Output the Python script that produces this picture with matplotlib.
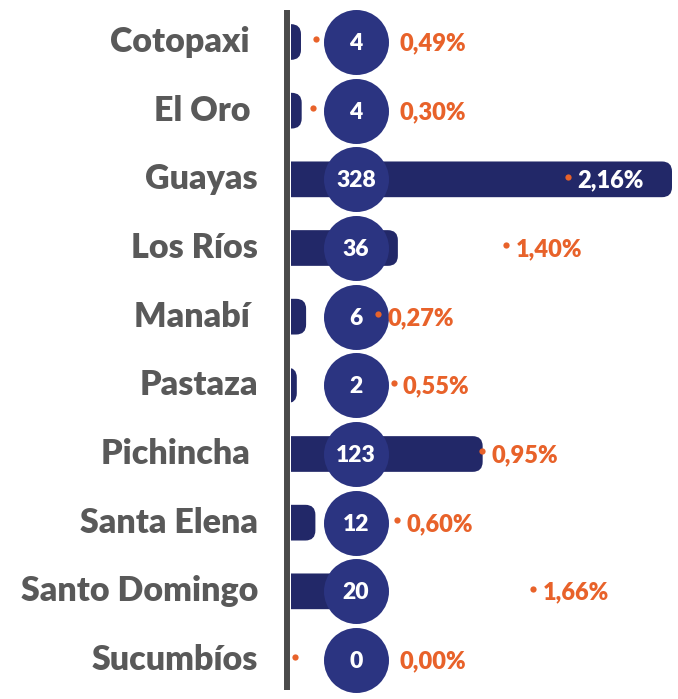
import matplotlib
matplotlib.use("Agg")
import matplotlib.pyplot as plt
from matplotlib.patches import FancyBboxPatch
from matplotlib.lines import Line2D

# ---- data ----
provinces = ["Cotopaxi ", "El Oro ", "Guayas", "Los Ríos", "Manabí ", "Pastaza",
             "Pichincha ", "Santa Elena", "Santo Domingo", "Sucumbíos"]
counts = [4, 4, 328, 36, 6, 2, 123, 12, 20, 0]
bar_lengths = [8.6, 9.2, 328, 92, 13, 5, 165, 21, 45, 0]
pct_labels = ["0,49%", "0,30%", "2,16%", "1,40%", "0,27%", "0,55%",
              "0,95%", "0,60%", "1,66%", "0,00%"]
dot_values = [0.195, 0.17, 2.16, 1.68, 0.68, 0.80, 1.49, 0.83, 1.89, 0.03]

BAR = "#222868"
CIRC = "#2B3481"
ORANGE = "#E8622A"
GRAY = "#595959"
FONT = "Lato"
WEIGHT = "heavy"

W, H = 678, 699
fig = plt.figure(figsize=(W / 100, H / 100), dpi=100)
ax_left, ax_right = 291, 678
row0, row9 = 42, 660
step = (row9 - row0) / 9
top_px = row0 - step / 2
bot_px = row9 + step / 2
ax = fig.add_axes([ax_left / W, (H - bot_px) / H, (ax_right - ax_left) / W, (bot_px - top_px) / H])
px_per_unit = 381 / 328
xmax = (ax_right - ax_left) / px_per_unit
ax.set_xlim(0, xmax)
ax.set_ylim(len(provinces) - 0.5, -0.5)
ax.axis("off")

bar_h = 0.52
rad_px = 10
rs = rad_px / px_per_unit
aspect = (1 / step) / (1 / px_per_unit)
for i, L in enumerate(bar_lengths):
    if L <= 0:
        continue
    start = -15
    p = FancyBboxPatch((start, i - bar_h / 2), L - start, bar_h,
                       boxstyle=f"round,pad=0,rounding_size={rs}",
                       mutation_aspect=aspect, fc=BAR, ec="none", zorder=2)
    ax.add_patch(p)

# circles
circ_x = (356 - ax_left) / px_per_unit
ys = list(range(len(provinces)))
ax.scatter([circ_x] * len(ys), ys, s=(65 * 0.72) ** 2, color=CIRC, zorder=3, linewidths=0)
for i, c in enumerate(counts):
    ax.text(circ_x, i + 0.02, str(c), color="white", fontsize=16.5, fontweight=WEIGHT,
            family=FONT, ha="center", va="center", zorder=4)

# percentage dots
ax2 = ax.twiny()
ax2.set_xlim(0, (ax_right - ax_left) / 128.24)
ax2.set_ylim(len(provinces) - 0.5, -0.5)
ax2.axis("off")
pct_px = 128.24
circ_right = (388 + 11 - ax_left) / pct_px
for i, (v, lab) in enumerate(zip(dot_values, pct_labels)):
    ax2.plot(v, i - 0.04, "o", color=ORANGE, ms=4.5, zorder=5, mec="none")
    lx = v + 9 / pct_px
    if lx < (360 - ax_left) / pct_px:
        lx = circ_right
    col = "white" if bar_lengths[i] * px_per_unit > (v * pct_px + 60) else ORANGE
    ax2.text(lx, i + 0.02, lab, color=col, fontsize=17, fontweight=WEIGHT, family=FONT,
             ha="left", va="center", zorder=6)

# category labels
for i, name in enumerate(provinces):
    ax.text(-33 / px_per_unit, i, name, color=GRAY, fontsize=24.5, fontweight=WEIGHT,
            family=FONT, ha="right", va="center", clip_on=False)

# axis line
fig.add_artist(Line2D([287 / W, 287 / W], [(H - 690) / H, (H - 10) / H],
                      color="#4a4a4a", lw=4.3, solid_capstyle="butt"))

fig.savefig("out.png", dpi=100, facecolor="white")
